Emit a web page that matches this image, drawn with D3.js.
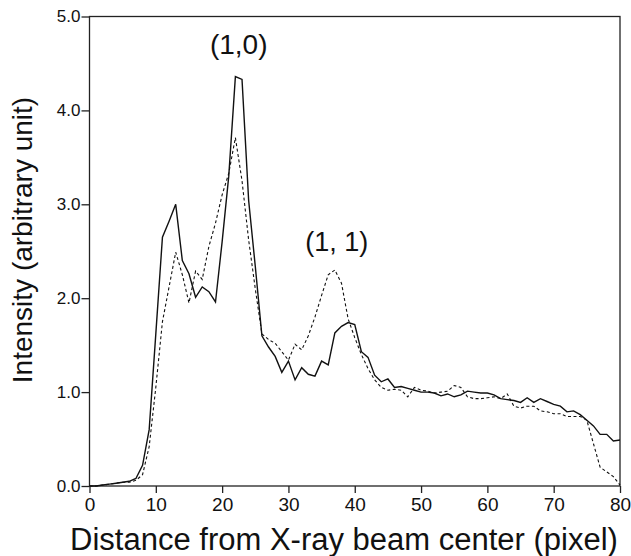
<!DOCTYPE html>
<html>
<head>
<meta charset="utf-8">
<script src="https://cdn.jsdelivr.net/npm/d3@7"></script>
<style>
  html, body { margin: 0; padding: 0; background: #fff; }
  svg { display: block; }
</style>
</head>
<body>
<svg id="chart" width="631" height="556"></svg>
<script>
// ---- data ----
const distance = d3.range(0, 81); // 0..80 pixels
const solidIntensity = [
  0.00, 0.00, 0.01, 0.02, 0.03, 0.04, 0.05, 0.08, 0.22, 0.60,
  1.62, 2.65, 2.82, 3.00, 2.40, 2.26, 2.01, 2.12, 2.07, 1.96,
  2.60, 3.30, 4.36, 4.33, 3.04, 2.34, 1.60, 1.48, 1.38, 1.21,
  1.33, 1.13, 1.26, 1.19, 1.17, 1.33, 1.29, 1.63, 1.70, 1.74,
  1.72, 1.43, 1.37, 1.18, 1.11, 1.14, 1.05, 1.06, 1.04, 1.02,
  1.00, 1.00, 0.99, 0.96, 0.98, 0.95, 0.97, 1.01, 1.00, 0.99,
  0.99, 0.97, 0.93, 0.92, 0.91, 0.89, 0.94, 0.89, 0.93, 0.90,
  0.87, 0.85, 0.79, 0.80, 0.76, 0.70, 0.64, 0.55, 0.55, 0.48,
  0.49
];
const dashedIntensity = [
  0.00, 0.00, 0.01, 0.02, 0.03, 0.04, 0.04, 0.06, 0.12, 0.42,
  1.05, 1.75, 2.12, 2.49, 2.25, 1.95, 2.29, 2.20, 2.55, 2.80,
  3.10, 3.33, 3.71, 3.25, 2.62, 2.10, 1.62, 1.56, 1.52, 1.43,
  1.34, 1.51, 1.45, 1.60, 1.80, 2.03, 2.25, 2.30, 2.16, 1.78,
  1.58, 1.40, 1.25, 1.13, 1.05, 1.02, 1.03, 1.02, 0.95, 1.05,
  1.02, 1.01, 0.99, 1.00, 1.01, 1.07, 1.05, 0.95, 0.93, 0.93,
  0.94, 0.95, 0.93, 0.98, 0.85, 0.83, 0.85, 0.85, 0.80, 0.79,
  0.77, 0.77, 0.74, 0.74, 0.74, 0.70, 0.45, 0.20, 0.15, 0.10,
  0.01
];
const xTicks = [0, 10, 20, 30, 40, 50, 60, 70, 80];
const yTicks = [0, 1, 2, 3, 4, 5];
const peakLabels = ["(1,0)", "(1, 1)"];
const peakLabelPos = [[22.5, 4.6], [37.3, 2.5]];
const peakLabelSize = [28, 27];

// ---- layout ----
const svg = d3.select("#chart");
const mLeft = 89.5, mRight = 620, mTop = 16.5, mBottom = 486;
const x = d3.scaleLinear().domain([0, 80]).range([mLeft, mRight]);
const y = d3.scaleLinear().domain([0, 5]).range([mBottom, mTop]);

const ink = "#111";

// frame
svg.append("rect")
  .attr("x", mLeft).attr("y", mTop)
  .attr("width", mRight - mLeft).attr("height", mBottom - mTop)
  .attr("fill", "none").attr("stroke", "#222").attr("stroke-width", 1.3);

// x axis
const xAxis = svg.append("g")
  .attr("transform", `translate(0,${mBottom})`)
  .call(d3.axisBottom(x).tickValues(xTicks).tickSize(7).tickPadding(5).tickFormat(d3.format("d")));
xAxis.select(".domain").remove();
xAxis.selectAll("line").attr("stroke", "#222").attr("stroke-width", 1.3);
xAxis.selectAll("text")
  .attr("font-family", "Liberation Sans, Arial, sans-serif")
  .attr("font-size", 19).attr("fill", ink);

// y axis
const yAxis = svg.append("g")
  .attr("transform", `translate(${mLeft},0)`)
  .call(d3.axisLeft(y).tickValues(yTicks).tickSize(8).tickPadding(1).tickFormat(d3.format(".1f")));
yAxis.select(".domain").remove();
yAxis.selectAll("line").attr("stroke", "#222").attr("stroke-width", 1.3);
yAxis.selectAll("text")
  .attr("font-family", "Liberation Sans, Arial, sans-serif")
  .attr("font-size", 17).attr("fill", ink);

// lines
const line = d3.line().x((d, i) => x(distance[i])).y(d => y(d));
svg.append("path")
  .datum(solidIntensity)
  .attr("d", line)
  .attr("fill", "none").attr("stroke", ink).attr("stroke-width", 1.4)
  .attr("stroke-linejoin", "miter");
svg.append("path")
  .datum(dashedIntensity)
  .attr("d", line)
  .attr("fill", "none").attr("stroke", ink).attr("stroke-width", 1.1)
  .attr("stroke-dasharray", "3,2.5");

// peak labels
svg.selectAll("text.peak")
  .data(peakLabels)
  .enter().append("text")
  .attr("class", "peak")
  .attr("x", (d, i) => x(peakLabelPos[i][0]))
  .attr("y", (d, i) => y(peakLabelPos[i][1]))
  .attr("text-anchor", "middle")
  .attr("font-family", "Liberation Sans, Arial, sans-serif")
  .attr("font-size", (d, i) => peakLabelSize[i]).attr("fill", ink)
  .text(d => d);

// axis titles
svg.append("text")
  .attr("x", 344).attr("y", 550)
  .attr("text-anchor", "middle")
  .attr("font-family", "Liberation Sans, Arial, sans-serif")
  .attr("font-size", 31).attr("fill", ink)
  .text("Distance from X-ray beam center (pixel)");

svg.append("text")
  .attr("transform", "translate(32,240) rotate(-90)")
  .attr("text-anchor", "middle")
  .attr("font-family", "Liberation Sans, Arial, sans-serif")
  .attr("font-size", 28).attr("fill", ink)
  .text("Intensity (arbitrary unit)");
</script>
</body>
</html>
